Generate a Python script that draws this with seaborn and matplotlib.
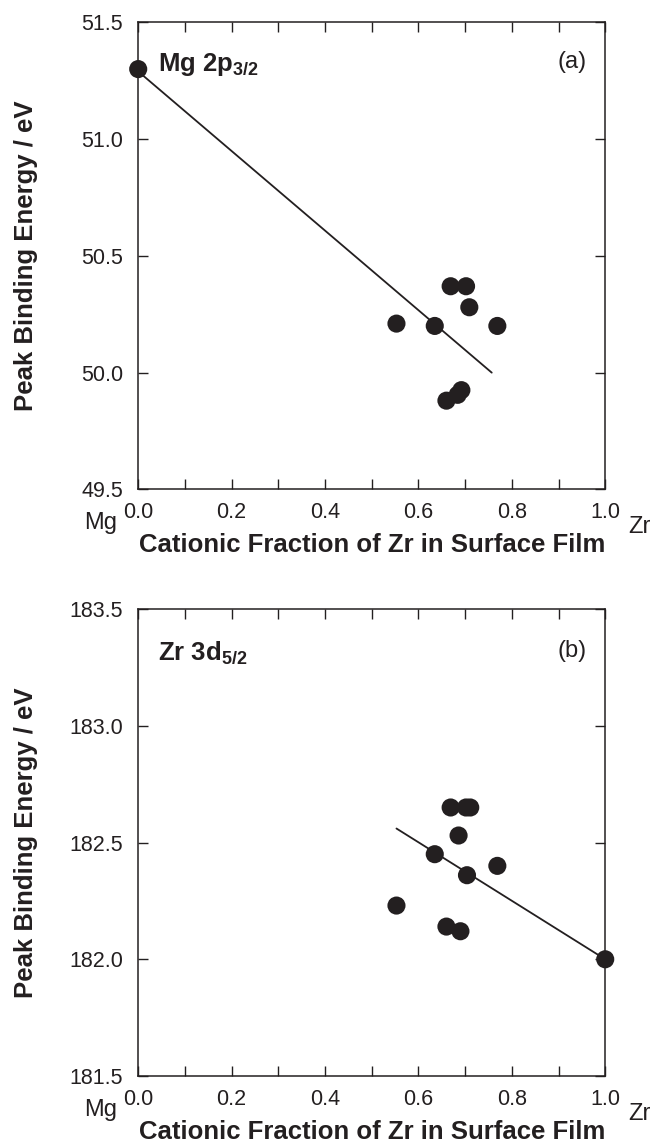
import matplotlib
matplotlib.use("Agg")
import matplotlib.pyplot as plt
import numpy as np
import pandas as pd
import seaborn as sns
from matplotlib.ticker import MultipleLocator

sns.set_style("ticks")
plt.rcParams["font.family"] = ["Liberation Sans", "DejaVu Sans"]
plt.rcParams["mathtext.fontset"] = "custom"
plt.rcParams["mathtext.rm"] = "Liberation Sans"
plt.rcParams["mathtext.bf"] = "Liberation Sans:bold"

INK = "#231f20"

# ---------------------------------------------------------------------------
# Data
# ---------------------------------------------------------------------------
# (a) Mg 2p3/2
mg_frac = [0.0, 0.553, 0.635, 0.660, 0.669, 0.684, 0.692, 0.702, 0.709, 0.769]
mg_be = [51.30, 50.21, 50.20, 49.88, 50.37, 49.905, 49.925, 50.37, 50.28, 50.20]
mg_fit_x = [0.0, 0.757]
mg_fit_y = [51.29, 50.00]

# (b) Zr 3d5/2
zr_frac = [0.553, 0.635, 0.660, 0.669, 0.686, 0.690, 0.702, 0.704, 0.711, 0.769, 1.0]
zr_be = [182.23, 182.45, 182.14, 182.65, 182.53, 182.12, 182.65, 182.36, 182.65, 182.40, 182.00]
zr_fit_x = [0.553, 1.0]
zr_fit_y = [182.56, 182.00]

panels = [
    dict(x=mg_frac, y=mg_be, fx=mg_fit_x, fy=mg_fit_y, ylim=(49.5, 51.5),
         yticks=[49.5, 50.0, 50.5, 51.0, 51.5],
         name=r"Mg 2p$_{\mathbf{3/2}}$", tag="(a)", name_y=0.896, tag_y=0.915),
    dict(x=zr_frac, y=zr_be, fx=zr_fit_x, fy=zr_fit_y, ylim=(181.5, 183.5),
         yticks=[181.5, 182.0, 182.5, 183.0, 183.5],
         name=r"Zr 3d$_{\mathbf{5/2}}$", tag="(b)", name_y=0.891, tag_y=0.911),
]

fig = plt.figure(figsize=(6.55, 11.48), dpi=100)
ax_rects = [[0.2110, 0.5737, 0.7130, 0.4068],
            [0.2110, 0.0627, 0.7130, 0.4068]]

for rect, p in zip(ax_rects, panels):
    ax = fig.add_axes(rect)
    pts = pd.DataFrame({"frac": p["x"], "be": p["y"]})
    fit = pd.DataFrame({"frac": p["fx"], "be": p["fy"]})

    sns.lineplot(data=fit, x="frac", y="be", ax=ax, color=INK, lw=1.3)
    sns.scatterplot(data=pts, x="frac", y="be", ax=ax, color=INK, s=170,
                    edgecolor="none", clip_on=False, zorder=5)

    ax.set_xlim(0, 1)
    ax.set_ylim(*p["ylim"])
    ax.xaxis.set_major_locator(MultipleLocator(0.2))
    ax.xaxis.set_minor_locator(MultipleLocator(0.1))
    ax.set_yticks(p["yticks"])
    ax.xaxis.set_major_formatter(plt.FormatStrFormatter("%.1f"))
    ax.yaxis.set_major_formatter(plt.FormatStrFormatter("%.1f"))

    ax.tick_params(which="both", direction="in", top=True, right=True,
                   length=7, width=1, color=INK, labelsize=15.5, labelcolor=INK)
    ax.tick_params(axis="x", which="major", pad=9)
    ax.tick_params(axis="y", which="major", pad=11)
    for sp in ax.spines.values():
        sp.set_visible(True)
        sp.set_color(INK)
        sp.set_linewidth(1.1)

    ax.set_xlabel("Cationic Fraction of Zr in Surface Film", fontsize=18.5,
                  fontweight="bold", color=INK)
    ax.xaxis.set_label_coords(0.5, -0.094)
    ax.set_ylabel("Peak Binding Energy / eV", fontsize=18.5,
                  fontweight="bold", color=INK)
    ax.yaxis.set_label_coords(-0.215, 0.5)

    ax.text(-0.081, -0.072, "Mg", transform=ax.transAxes, fontsize=17,
            ha="center", va="center", color=INK)
    ax.text(1.074, -0.081, "Zr", transform=ax.transAxes, fontsize=17,
            ha="center", va="center", color=INK)

    ax.text(0.042, p["name_y"], p["name"], transform=ax.transAxes,
            fontsize=18.5, fontweight="bold", ha="left", va="baseline", color=INK)
    ax.text(0.961, p["tag_y"], p["tag"], transform=ax.transAxes,
            fontsize=17, ha="right", va="center", color=INK)

fig.savefig("out.png", dpi=100)
